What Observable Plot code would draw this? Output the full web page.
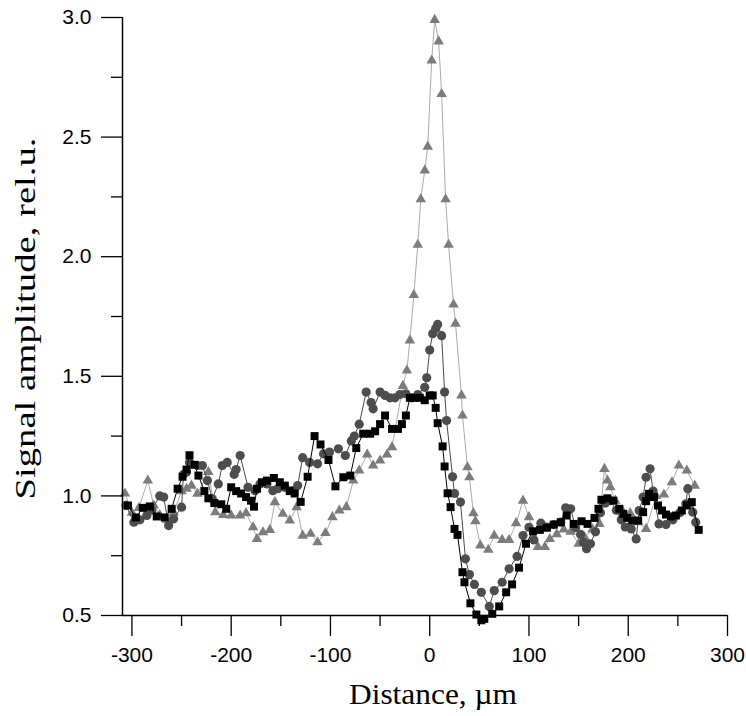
<!DOCTYPE html>
<html>
<head>
<meta charset="utf-8">
<script src="https://cdn.jsdelivr.net/npm/d3@7"></script>
<script src="https://cdn.jsdelivr.net/npm/@observablehq/plot@0.6"></script>
<style>
  html, body { margin: 0; padding: 0; background: #fff; }
  #chart svg { display: block; }
</style>
</head>
<body>
<div id="chart"></div>
<script>
// ---- tick values ----
const xMajor = [-300, -200, -100, 0, 100, 200, 300];
const xMinor = [-250, -150, -50, 50, 150, 250];
const yMajor = [0.5, 1.0, 1.5, 2.0, 2.5, 3.0];
const yMinor = [0.75, 1.25, 1.75, 2.25, 2.75];

// ---- series: squares (black) ----
const sqX = [-304,-296,-289,-282,-275,-267,-260,-254,-249,-245,-242,-237,-233,-227,-223,-217,-210,-205,-200,-195,-190,-185,-180,-177,-174,-169,-164,-157,-151,-146,-141,-136,-130,-123,-116,-110,-102,-95,-87,-80,-74,-67,-60,-55,-50,-45,-38,-32,-28,-24,-20,-15,-10,-5,0,3,6,8,13,15,18,21,25,28,33,35,41,47,52,55,63,70,77,83,90,97,104,111,118,125,132,138,145,153,159,166,170,173,179,185,191,195,199,204,210,215,218,221,226,230,234,238,243,248,254,259,264,271];
const sqY = [0.96,0.91,0.95,0.956,0.914,0.91,0.946,1.03,1.08,1.11,1.17,1.13,1.085,1.02,0.99,0.97,0.965,0.946,1.036,1.02,1.01,0.995,0.98,0.955,1.03,1.057,1.064,1.075,1.057,1.043,1.02,1.01,0.975,1.08,1.25,1.215,1.15,1.04,1.078,1.085,1.20,1.26,1.26,1.27,1.30,1.336,1.28,1.28,1.30,1.336,1.41,1.41,1.41,1.40,1.42,1.42,1.368,1.304,1.207,1.123,1.011,0.953,0.862,0.837,0.681,0.639,0.551,0.504,0.48,0.486,0.507,0.538,0.597,0.63,0.70,0.80,0.852,0.858,0.867,0.88,0.89,0.918,0.883,0.894,0.883,0.908,0.946,0.984,0.99,0.98,0.946,0.925,0.908,0.897,0.897,0.932,0.978,1.009,0.995,0.96,0.939,0.922,0.914,0.918,0.939,0.96,0.974,0.858];

// ---- series: circles (dark grey) ----
const ciX = [-306,-298,-292,-285,-280,-272,-268,-263,-258,-250,-248,-245,-242,-234,-229,-224,-219,-213,-209,-204,-197,-195,-191,-183,-176,-171,-164,-158,-153,-146,-139,-133,-128,-121,-113,-107,-101,-92,-85,-79,-76,-71,-64,-59,-57,-50,-45,-40,-35,-30,-24,-18,-12,-5,-3,0,3,6,8,12,15,17,23,25,31,36,40,45,52,60,65,73,80,88,94,100,105,112,118,125,132,137,142,147,152,155,158,162,167,172,177,182,188,193,197,203,208,211,215,218,222,225,231,238,245,252,258,260,265,268];
const ciY = [0.96,0.89,0.90,0.918,0.94,1.0,0.995,0.876,0.904,0.953,1.09,1.10,1.14,1.127,1.127,1.064,0.988,1.05,1.127,1.14,1.09,1.11,1.169,1.036,1.022,1.05,1.05,1.022,1.03,1.036,1.022,1.043,1.16,1.14,1.134,1.176,1.183,1.197,1.169,1.23,1.25,1.30,1.434,1.39,1.364,1.434,1.42,1.41,1.41,1.424,1.427,1.41,1.424,1.454,1.494,1.61,1.678,1.70,1.717,1.67,1.434,1.315,1.08,1.01,0.974,0.737,0.671,0.63,0.597,0.538,0.604,0.639,0.695,0.747,0.834,0.869,0.816,0.886,0.87,0.88,0.89,0.95,0.946,0.867,0.839,0.806,0.779,0.80,0.85,0.93,0.97,0.98,0.94,0.90,0.87,0.862,0.82,0.939,0.995,1.078,1.113,1.02,0.883,0.88,0.90,0.93,0.967,1.03,0.932,0.89];

// ---- series: triangles (light grey) ----
const trX = [-307,-300,-293,-284,-278,-272,-265,-258,-250,-245,-240,-234,-223,-216,-208,-200,-191,-185,-178,-174,-168,-161,-156,-148,-141,-134,-128,-120,-113,-105,-98,-91,-84,-77,-71,-63,-57,-50,-43,-38,-27,-23,-20,-16,-12,-9,-5,-2,2,5,9,12,16,19,24,26,32,33,38,40,44,46,51,59,65,73,80,87,94,100,109,116,121,128,135,142,150,156,164,171,176,179,182,187,194,202,210,218,228,236,244,251,259,267];
const trY = [1.01,0.93,0.95,1.064,0.96,0.92,0.90,0.93,1.02,1.03,1.043,1.009,1.10,0.932,0.92,0.918,0.918,0.928,0.869,0.82,0.848,0.858,0.974,0.925,0.897,0.953,0.834,0.842,0.806,0.845,0.911,0.939,0.953,1.064,1.106,1.173,1.127,1.148,1.173,1.204,1.46,1.524,1.65,1.84,2.05,2.24,2.36,2.46,2.82,2.99,2.90,2.68,2.24,2.05,1.80,1.72,1.42,1.336,1.12,1.078,0.928,0.894,0.793,0.775,0.834,0.816,0.816,0.886,0.98,0.911,0.786,0.786,0.82,0.84,0.86,0.85,0.80,0.827,0.86,0.883,1.113,1.064,1.036,0.98,0.939,0.928,0.89,0.862,1.0,1.006,1.057,1.127,1.106,1.043];

const xTitle = "Distance, µm";
const yTitle = "Signal amplitude, rel.u.";

const toRows = (xs, ys) => xs.map((x, i) => ({x, y: ys[i]}));
const squares = toRows(sqX, sqY);
const circles = toRows(ciX, ciY);
const triangles = toRows(trX, trY);

const sans = "'Liberation Sans', Arial, sans-serif";
const serif = "'Liberation Serif', 'Times New Roman', serif";

const chart = Plot.plot({
  width: 746,
  height: 716,
  marginLeft: 122,
  marginRight: 19,
  marginTop: 17,
  marginBottom: 101,
  style: {fontFamily: sans, background: "#fff", overflow: "visible"},
  x: {domain: [-309.5, 300], label: null},
  y: {domain: [0.5, 3.0], label: null},
  marks: [
    // triangles
    Plot.line(triangles, {x: "x", y: "y", stroke: "#ababab", strokeWidth: 1}),
    Plot.dot(triangles, {x: "x", y: "y", symbol: "triangle", r: 3.9, fill: "#7c7c7c", stroke: "none"}),
    // circles
    Plot.line(circles, {x: "x", y: "y", stroke: "#4a4a4a", strokeWidth: 1}),
    Plot.dot(circles, {x: "x", y: "y", symbol: "circle", r: 4.6, fill: "#4d4d4d", stroke: "none"}),
    // squares
    Plot.line(squares, {x: "x", y: "y", stroke: "#000", strokeWidth: 1}),
    Plot.dot(squares, {x: "x", y: "y", symbol: "square", r: 4.5, fill: "#000", stroke: "none"}),
    // axes
    Plot.ruleX([-309.5], {stroke: "#000", strokeWidth: 1.5}),
    Plot.ruleY([0.5], {stroke: "#000", strokeWidth: 1.5}),
    Plot.axisY({ticks: yMajor, tickSize: 21, tickPadding: 10, tickFormat: d => d.toFixed(1), fontSize: 21, fontFamily: sans, label: null, strokeWidth: 1.3}),
    Plot.axisY({ticks: yMinor, tickSize: 11, tickFormat: () => "", label: null, strokeWidth: 1.3}),
    Plot.axisX({ticks: xMajor, tickSize: 21, tickPadding: 11, tickFormat: d => String(d), fontSize: 21, fontFamily: sans, label: null, strokeWidth: 1.3}),
    Plot.axisX({ticks: xMinor, tickSize: 11, tickFormat: () => "", label: null, strokeWidth: 1.3}),
    // titles
    Plot.text([xTitle], {frameAnchor: "bottom", dx: 8, dy: 88, fontSize: 30, fontFamily: serif, fill: "#000"}),
    Plot.text([yTitle], {frameAnchor: "left", textAnchor: "middle", rotate: -90, dx: -97, dy: 2, fontSize: 30, fontFamily: serif, fill: "#000"})
  ]
});
document.getElementById("chart").appendChild(chart);

// stretch the titles to the length they occupy in the reference
d3.select(chart).selectAll("text").each(function () {
  const t = this.textContent;
  if (t === xTitle) { this.setAttribute("textLength", 168); this.setAttribute("lengthAdjust", "spacingAndGlyphs"); }
  if (t === yTitle) { this.setAttribute("textLength", 362); this.setAttribute("lengthAdjust", "spacingAndGlyphs"); }
});
</script>
</body>
</html>
